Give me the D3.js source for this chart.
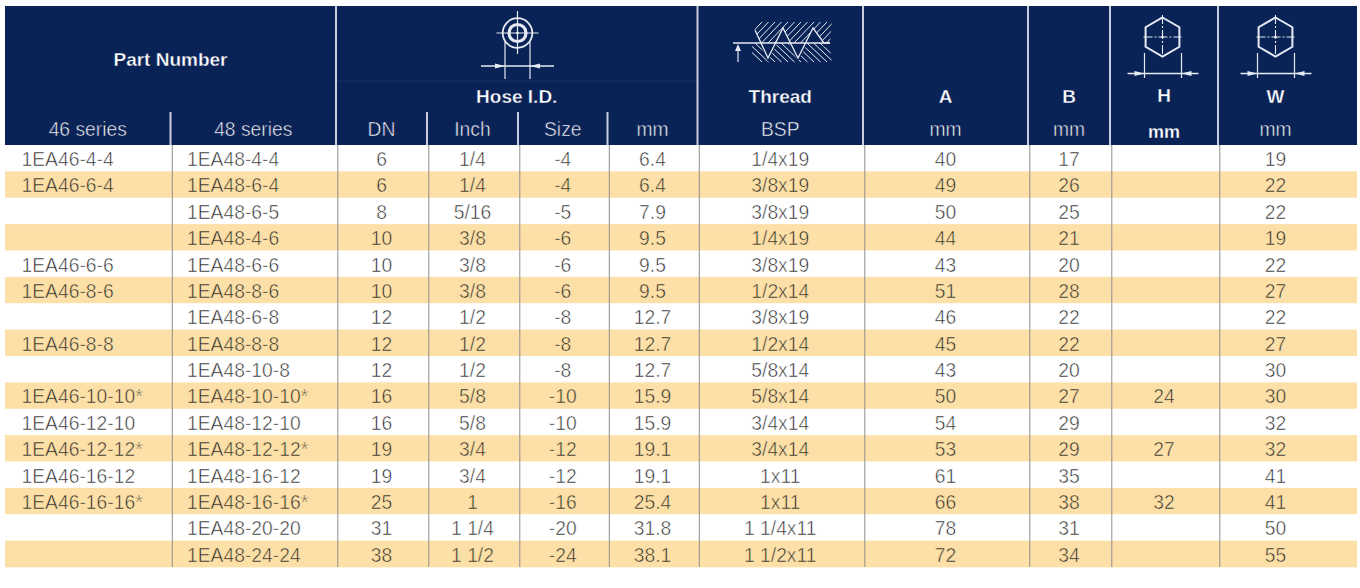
<!DOCTYPE html>
<html>
<head>
<meta charset="utf-8">
<script src="https://cdn.jsdelivr.net/npm/d3@7"></script>
<style>
  html, body { margin: 0; padding: 0; background: #ffffff; }
  svg { display: block; }
  text { font-family: "Liberation Sans", Arial, Helvetica, sans-serif; }
</style>
</head>
<body>
<div id="chart"></div>
<script>
// ---------------- DATA ----------------
const series46 = ["1EA46-4-4","1EA46-6-4","","","1EA46-6-6","1EA46-8-6","","1EA46-8-8","","1EA46-10-10*","1EA46-12-10","1EA46-12-12*","1EA46-16-12","1EA46-16-16*","",""];
const series48 = ["1EA48-4-4","1EA48-6-4","1EA48-6-5","1EA48-4-6","1EA48-6-6","1EA48-8-6","1EA48-6-8","1EA48-8-8","1EA48-10-8","1EA48-10-10*","1EA48-12-10","1EA48-12-12*","1EA48-16-12","1EA48-16-16*","1EA48-20-20","1EA48-24-24"];
const hoseDN = ["6","6","8","10","10","10","12","12","12","16","16","19","19","25","31","38"];
const hoseInch = ["1/4","1/4","5/16","3/8","3/8","3/8","1/2","1/2","1/2","5/8","5/8","3/4","3/4","1","1 1/4","1 1/2"];
const hoseSize = ["-4","-4","-5","-6","-6","-6","-8","-8","-8","-10","-10","-12","-12","-16","-20","-24"];
const hoseMM = ["6.4","6.4","7.9","9.5","9.5","9.5","12.7","12.7","12.7","15.9","15.9","19.1","19.1","25.4","31.8","38.1"];
const threadBSP = ["1/4x19","3/8x19","3/8x19","1/4x19","3/8x19","1/2x14","3/8x19","1/2x14","5/8x14","5/8x14","3/4x14","3/4x14","1x11","1x11","1 1/4x11","1 1/2x11"];
const dimA = ["40","49","50","44","43","51","46","45","43","50","54","53","61","66","78","72"];
const dimB = ["17","26","25","21","20","28","22","22","20","27","29","29","35","38","31","34"];
const dimH = ["","","","","","","","","","24","","27","","32","",""];
const dimW = ["19","22","22","19","22","27","22","27","30","30","32","32","41","41","50","55"];

const topLabels = ["Part Number","Hose I.D.","Thread","A","B","H","W"];
const subLabels = ["46 series","48 series","DN","Inch","Size","mm","BSP","mm","mm","mm","mm"];

// ---------------- LAYOUT ----------------
const W = 1360, Hgt = 588;
const NAVY = "#0a2356", ORANGE = "#fde0a8", SEP = "#c8cedb", BODYLINE = "#8e8e8e", TXT = "#262626";
const left = 5, right = 1357, headTop = 6, headBot = 145, bodyBot = 567;

// column boundaries (header separators)
const colEdges = [left, 170.5, 336, 427, 518, 607.5, 697.5, 863, 1028, 1110, 1218, 1333];
const columns = [
  {data: series46, align: "start"},
  {data: series48, align: "start"},
  {data: hoseDN}, {data: hoseInch}, {data: hoseSize}, {data: hoseMM},
  {data: threadBSP}, {data: dimA}, {data: dimB}, {data: dimH}, {data: dimW}
];
columns.forEach((c, i) => { c.x0 = colEdges[i]; c.x1 = colEdges[i + 1]; c.cx = (c.x0 + c.x1) / 2; });

const svg = d3.select("#chart").append("svg").attr("width", W).attr("height", Hgt);

const nRows = series48.length;
const y = d3.scaleBand().domain(d3.range(nRows)).range([headBot, bodyBot]);
const rowFill = i => i % 2 ? ORANGE : "#ffffff";

// body row backgrounds
svg.append("g").selectAll("rect").data(d3.range(nRows)).join("rect")
  .attr("x", left).attr("width", right - left)
  .attr("y", d => y(d)).attr("height", y.bandwidth() + 0.4)
  .attr("fill", rowFill);

// body vertical lines
const bodyLines = colEdges.slice(1, 11).map(x => x + 1.8);
svg.append("g").selectAll("line").data(bodyLines).join("line")
  .attr("x1", d => d).attr("x2", d => d)
  .attr("y1", headBot).attr("y2", bodyBot)
  .attr("stroke", BODYLINE).attr("stroke-width", 1);

// body text (thin look: stroke in background colour over the fill)
const bodyG = svg.append("g").attr("font-size", 19.3).attr("fill", TXT)
  .attr("stroke-width", 0.55);
columns.forEach(c => {
  bodyG.append("g").selectAll("text").data(c.data).join("text")
    .attr("x", c.align === "start" ? c.x0 + 16.5 : c.cx)
    .attr("y", (d, i) => y(i) + 21)
    .attr("text-anchor", c.align === "start" ? "start" : "middle")
    .attr("stroke", (d, i) => rowFill(i))
    .text(d => d);
});

// header
svg.append("rect").attr("x", left).attr("y", headTop).attr("width", right - left)
  .attr("height", headBot - headTop).attr("fill", NAVY);

// faint inner line in header
svg.append("line").attr("x1", 336).attr("x2", 697.5).attr("y1", 81).attr("y2", 81)
  .attr("stroke", "#ffffff").attr("stroke-opacity", 0.07).attr("stroke-width", 1);

// main header separators (full height)
const mainSeps = [336, 697.5, 863, 1028, 1110, 1218];
svg.append("g").selectAll("line").data(mainSeps).join("line")
  .attr("x1", d => d).attr("x2", d => d).attr("y1", headTop).attr("y2", headBot)
  .attr("stroke", SEP).attr("stroke-width", 2);
// sub separators
const subSeps = [170.5, 427, 518, 607.5];
svg.append("g").selectAll("line").data(subSeps).join("line")
  .attr("x1", d => d).attr("x2", d => d).attr("y1", 112).attr("y2", headBot)
  .attr("stroke", SEP).attr("stroke-width", 2);

// header labels
const hdr = svg.append("g").attr("fill", "#ffffff");
const topPos = [
  {x: (left + 336) / 2, y: 66},
  {x: (336 + 697.5) / 2, y: 103},
  {x: columns[6].cx, y: 103},
  {x: columns[7].cx, y: 103},
  {x: columns[8].cx, y: 103},
  {x: columns[9].cx, y: 102},
  {x: columns[10].cx, y: 103}
];
hdr.selectAll("text.top").data(topLabels).join("text").attr("class", "top")
  .attr("x", (d, i) => topPos[i].x).attr("y", (d, i) => topPos[i].y)
  .attr("text-anchor", "middle").attr("font-size", 19).attr("font-weight", "bold")
  .attr("stroke", NAVY).attr("stroke-width", 0.35)
  .text(d => d);
hdr.selectAll("text.sub").data(subLabels).join("text").attr("class", "sub")
  .attr("x", (d, i) => columns[i].cx).attr("y", (d, i) => i === 9 ? 138 : 136)
  .attr("text-anchor", "middle").attr("font-size", (d, i) => i === 9 ? 18 : 19.3)
  .attr("font-weight", (d, i) => i === 9 ? "bold" : "normal")
  .attr("stroke", NAVY).attr("stroke-width", (d, i) => i === 9 ? 0.3 : 0.55)
  .text(d => d);

// ---------------- ICONS ----------------
const ICON = "#e6eaf2";
const icons = svg.append("g").attr("stroke", ICON).attr("fill", "none");

function dimension(g, xl, xr, yLine, yTop, yBot, ext) {
  g.append("line").attr("x1", xl).attr("x2", xl).attr("y1", yTop).attr("y2", yBot).attr("stroke-width", 1.2);
  g.append("line").attr("x1", xr).attr("x2", xr).attr("y1", yTop).attr("y2", yBot).attr("stroke-width", 1.2);
  g.append("line").attr("x1", xl - ext).attr("x2", xr + ext).attr("y1", yLine).attr("y2", yLine).attr("stroke-width", 1.6);
  // inward arrows
  g.append("path").attr("d", `M${xl},${yLine} L${xl - 10},${yLine - 2.5} L${xl - 10},${yLine + 2.5} Z`).attr("fill", ICON).attr("stroke", "none");
  g.append("path").attr("d", `M${xr},${yLine} L${xr + 10},${yLine - 2.5} L${xr + 10},${yLine + 2.5} Z`).attr("fill", ICON).attr("stroke", "none");
}

// Hose I.D. icon
(function () {
  const cx = 517.5, cy = 33;
  const g = icons.append("g");
  g.append("circle").attr("cx", cx).attr("cy", cy).attr("r", 14.8).attr("stroke-width", 1.8);
  g.append("circle").attr("cx", cx).attr("cy", cy).attr("r", 8.5).attr("stroke-width", 3.2);
  g.append("line").attr("x1", cx - 21).attr("x2", cx + 21).attr("y1", cy).attr("y2", cy).attr("stroke-width", 1.2);
  g.append("line").attr("x1", cx).attr("x2", cx).attr("y1", cy - 22).attr("y2", cy + 21).attr("stroke-width", 1.2);
  g.append("circle").attr("cx", cx).attr("cy", cy).attr("r", 1).attr("fill", ICON);
  dimension(g, cx - 12.5, cx + 12.5, 66, cy + 9, 79, 24);
})();

// Thread icon
(function () {
  const g = icons.append("g");
  const defs = svg.append("defs");
  const yTop = 22, yMid = 43, yBot = 62;
  const zig = [[755, 30], [768, 58], [783, 28], [798, 58], [813, 28], [824, 43], [830, 43]];
  defs.append("clipPath").attr("id", "thUp").append("path")
    .attr("d", "M752,20 L" + zig.map(p => p.join(",")).join(" L") + " L832,20 Z");
  defs.append("clipPath").attr("id", "thDn").append("path")
    .attr("d", "M752,64 L752,40 L" + zig.map(p => [p[0], p[1] + 4].join(",")).join(" L") + " L832,64 Z");
  const up = g.append("g").attr("clip-path", "url(#thUp)");
  d3.range(0, 14).forEach(k => {
    const xs = 742 + k * 6.5;
    up.append("line").attr("x1", xs).attr("y1", yMid).attr("x2", xs + 20).attr("y2", yTop).attr("stroke-width", 1);
  });
  const dn = g.append("g").attr("clip-path", "url(#thDn)");
  d3.range(0, 14).forEach(k => {
    const xs = 742 + k * 6.5;
    dn.append("line").attr("x1", xs).attr("y1", yMid).attr("x2", xs + 20).attr("y2", yBot).attr("stroke-width", 1);
  });
  g.append("path").attr("d", "M" + zig.map(p => p.join(",")).join(" L")).attr("stroke-width", 1.3);
  g.append("line").attr("x1", 733).attr("x2", 830).attr("y1", yMid).attr("y2", yMid).attr("stroke-width", 1.4);
  g.append("line").attr("x1", 738).attr("x2", 738).attr("y1", yMid + 3).attr("y2", yBot).attr("stroke-width", 1.2);
  g.append("path").attr("d", `M738,${yMid + 1} L735,${yMid + 8} L741,${yMid + 8} Z`).attr("fill", ICON).attr("stroke", "none");
})();

// Hex icons (H and W)
function hexIcon(cx) {
  const cy = 37, r = 19.5;
  const g = icons.append("g");
  const pts = d3.range(6).map(k => {
    const a = -Math.PI / 2 + k * Math.PI / 3;
    return [cx + r * Math.cos(a), cy + r * Math.sin(a)];
  });
  g.append("path").attr("d", "M" + pts.map(p => p.join(",")).join(" L") + " Z").attr("stroke-width", 2);
  g.append("line").attr("x1", cx - 19).attr("x2", cx + 19).attr("y1", cy).attr("y2", cy)
    .attr("stroke-width", 1.1).attr("stroke-dasharray", "9,2,2,2");
  g.append("line").attr("x1", cx).attr("x2", cx).attr("y1", cy - 22).attr("y2", cy + 20)
    .attr("stroke-width", 1.1).attr("stroke-dasharray", "9,2,2,2");
  g.append("circle").attr("cx", cx).attr("cy", cy).attr("r", 1.3).attr("fill", ICON).attr("stroke", "none");
  dimension(g, cx - 18, cx + 19, 73.5, 53, 78, 17);
}
hexIcon(1162.5);
hexIcon(1275.5);
</script>
</body>
</html>
